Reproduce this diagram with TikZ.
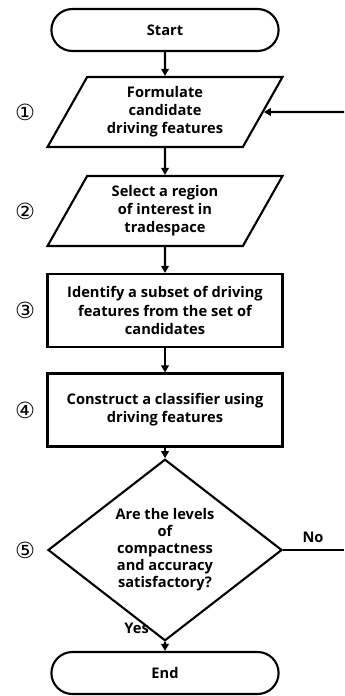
\documentclass[tikz,border=0pt]{standalone}
\usepackage{fontspec}
\setmainfont{Open Sans}
\newfontfamily\circfont{DejaVu Sans}
\usepackage{tikz}
\usetikzlibrary{shapes.geometric, shapes.misc, arrows.meta, positioning}
\tikzset{>={Triangle[length=6pt,width=6.5pt]}}
\tikzset{term/.style={rounded rectangle, draw=black, line width=1.8pt, minimum width=7.05cm, minimum height=1.26cm, font=\fontsize{12.5}{15.5}\selectfont\bfseries}}
\tikzset{io/.style={trapezium, trapezium left angle=56, trapezium right angle=124, trapezium stretches body, draw=black, line width=1.8pt, minimum width=7.05cm, minimum height=2.1cm, align=center, font=\fontsize{12.5}{15.5}\selectfont\bfseries}}
\tikzset{stepbox/.style={rectangle, draw=black, line width=1.8pt, minimum width=7.05cm, minimum height=2.19cm, align=center, font=\fontsize{12.5}{15.5}\selectfont\bfseries}}
\tikzset{decision/.style={diamond, draw=black, line width=1.8pt, minimum width=7.02cm, minimum height=4.62cm, inner sep=0pt, align=center, font=\fontsize{12.5}{14.5}\selectfont\bfseries}}
\tikzset{num/.style={font=\circfont\fontsize{19}{19}\selectfont}}
\tikzset{lbl/.style={font=\fontsize{12.5}{15}\selectfont\bfseries}}

\begin{document}
\begin{tikzpicture}[line width=1.8pt]
		\useasboundingbox (0,0) rectangle (10.32,-20.88);
		\node[term] at (4.95,-0.9) (start) {Start};
		\node[io] at (4.95,-3.36) (formulate) {Formulate\\candidate\\driving features};
		\node[io] at (4.95,-6.33) (select) {Select a region\\of interest in\\tradespace};
		\node[stepbox] at (4.95,-9.315) (identify) {Identify a subset of driving\\features from the set of\\candidates};
		\node[stepbox] at (4.95,-12.3) (construct) {Construct a classifier using\\driving features};
		\node[decision] at (4.95,-16.5) (check) {Are the levels\\of\\compactness\\and accuracy\\satisfactory?};
		\node[term] at (4.95,-20.19) (end) {End};

		\node[num] at (0.75,-3.36) (n1) {①};
		\node[num] at (0.75,-6.33) (n2) {②};
		\node[num] at (0.75,-9.315) (n3) {③};
		\node[num] at (0.75,-12.3) (n4) {④};
		\node[num] at (0.75,-16.5) (n5) {⑤};

		\node[lbl] at (9.39,-16.12) (no) {No};
		\node[lbl] at (4.1,-18.84) (yes) {Yes};

		\coordinate (loopout) at (10.32,-16.5);
		\coordinate (loopin) at (10.32,-3.36);

		\draw[->] (start) -- (formulate);
		\draw[->] (formulate) -- (select);
		\draw[->] (select) -- (identify);
		\draw[->] (identify) -- (construct);
		\draw[->] (construct) -- (check);
		\draw[->] (check) -- (end);
		\draw (check.east) -- (loopout);
		\draw[->] (loopin) -- (formulate.east);
		\end{tikzpicture}
\end{document}
